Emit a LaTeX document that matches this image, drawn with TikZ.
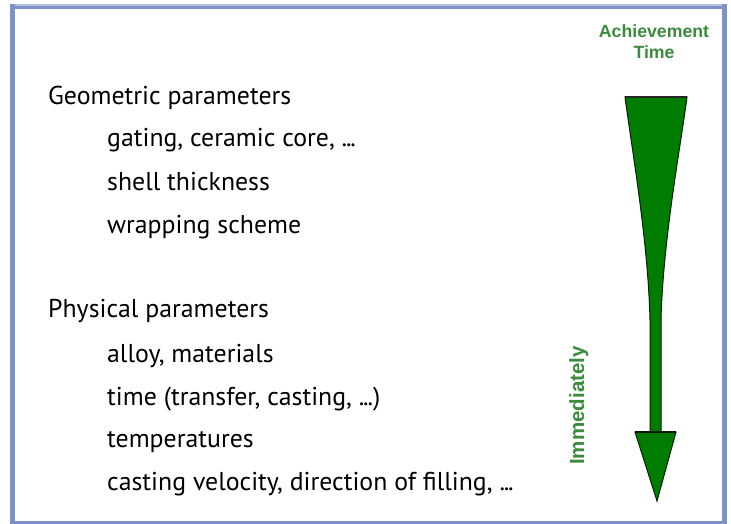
\documentclass[tikz,border=0pt]{standalone}
\usepackage{fontspec}
\setmainfont{PT Sans}
\newfontfamily\arialb{Liberation Sans}[BoldFont={Liberation Sans Bold}]
\newcommand{\tightdots}{.\kern-1.2pt.\kern-1.2pt.}
\definecolor{framec}{RGB}{125,145,200}
\definecolor{framel}{RGB}{180,192,225}
\definecolor{txtgreen}{RGB}{58,140,60}
\definecolor{arrgreen}{RGB}{0,125,0}
\begin{document}
\begin{tikzpicture}[x=1pt,y=-1pt,
  lvlone/.style={anchor=base west,inner sep=0pt,font=\fontsize{25.8}{30}\selectfont,text=black},
  lvltwo/.style={lvlone},
  greentxt/.style={inner sep=0pt,text=txtgreen}]
\useasboundingbox (0,0) rectangle (731,524);
\fill[white] (0,0) rectangle (731,524);
% frame
\fill[framel] (10,4) rectangle (727,6);
\fill[framec] (10,6) rectangle (727,9);
\fill[framec] (10,4) rectangle (15,524);
\fill[framec] (722,4) rectangle (727,524);
\fill[framec] (10,521) rectangle (727,524);
% texts
\node[lvlone] (g) at (48,105) {Geometric parameters};
\node[lvltwo] (g1) at (107,147) {gating, ceramic core, \tightdots};
\node[lvltwo] (g2) at (107,190) {shell thickness};
\node[lvltwo] (g3) at (107,233) {wrapping scheme};
\node[lvlone] (p) at (48,317) {Physical parameters};
\node[lvltwo] (p1) at (107,362) {alloy, materials};
\node[lvltwo] (p2) at (107,405) {time (transfer, casting, \tightdots)};
\node[lvltwo] (p3) at (107,447) {temperatures};
\node[lvltwo] (p4) at (107,490) {casting velocity, direction of filling, \tightdots};
% green labels
\node[greentxt,anchor=base,font=\arialb\bfseries\fontsize{17.7}{20}\selectfont] (a1) at (654,37.7) {Achievement};
\node[greentxt,anchor=base,font=\arialb\bfseries\fontsize{17.7}{20}\selectfont] (a2) at (654,58.3) {Time};
\node[greentxt,anchor=base,rotate=90,font=\arialb\bfseries\fontsize{20.5}{24}\selectfont] (im) at (584,405.5) {Immediately};
% arrow
\draw[fill=arrgreen,draw=black!75!arrgreen,line width=1pt,line join=miter]
  (625,97) -- (687,97) .. controls (680,150) and (663,240) .. (661,320)
  -- (661,432) -- (676,432) -- (657,501) -- (635,432) -- (650,432) -- (650,320)
  .. controls (648,240) and (632,150) .. (625,97) -- cycle;
\draw[black!85,line width=2pt] (625,97) -- (687,97);
\draw[black!80!arrgreen,line width=1.4pt] (635,432) -- (676,432);
\end{tikzpicture}
\end{document}
